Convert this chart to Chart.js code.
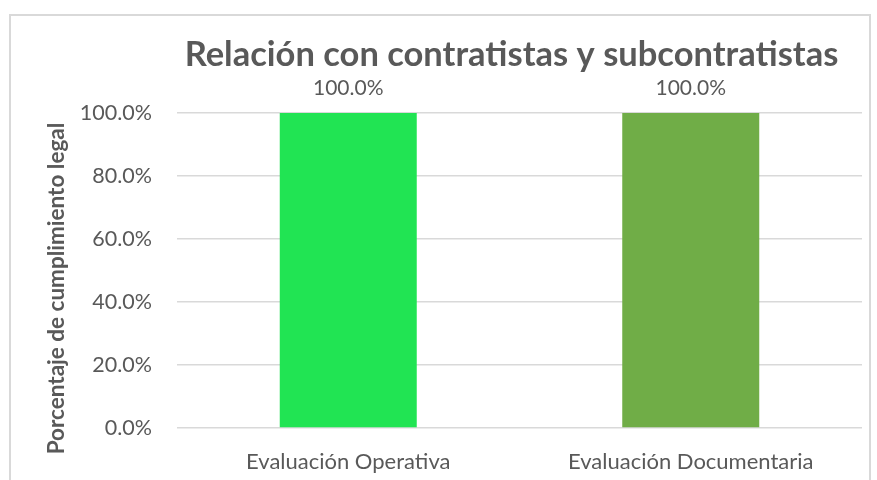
<!DOCTYPE html>
<html>
<head>
<meta charset="utf-8">
<script src="https://cdn.jsdelivr.net/npm/chart.js@4/dist/chart.umd.min.js"></script>
<style>
  body { margin: 0; background: #fff; }
  #frame {
    position: absolute; left: 9px; top: 14px; width: 862px; height: 480px;
    border: 2px solid #d9d9d9; box-sizing: border-box;
  }
  canvas { position: absolute; left: 0; top: 0; }
</style>
</head>
<body>
<div id="frame"></div>
<canvas id="chart" width="877" height="480"></canvas>
<script>
const categories = ["Evaluación Operativa", "Evaluación Documentaria"];
const values = [100, 100];
const barColors = ["#21E453", "#70AD47"];
const yTicks = [0, 20, 40, 60, 80, 100];
const chartTitle = "Relación con contratistas y subcontratistas";
const yTitle = "Porcentaje de cumplimiento legal";

const textColor = "#595959";
const fontFamily = "Lato, 'Open Sans', sans-serif";

// chart title and axis title, placed like the Excel original
const titles = {
  id: "titles",
  afterDraw(chart) {
    const ctx = chart.ctx;
    const area = chart.chartArea;
    ctx.save();
    ctx.fillStyle = textColor;
    ctx.textAlign = "center";
    ctx.textBaseline = "middle";
    ctx.font = "bold 34.5px " + fontFamily;
    ctx.fillText(chartTitle, (area.left + area.right) / 2 - 8, 55);

    ctx.font = "bold 22.5px " + fontFamily;
    ctx.translate(57, (area.top + area.bottom) / 2 + 18);
    ctx.rotate(-Math.PI / 2);
    ctx.fillText(yTitle, 0, 0);
    ctx.restore();
  }
};

// draws the "100.0%" labels above each bar
const valueLabels = {
  id: "valueLabels",
  afterDatasetsDraw(chart) {
    const ctx = chart.ctx;
    const meta = chart.getDatasetMeta(0);
    ctx.save();
    ctx.font = "21px " + fontFamily;
    ctx.fillStyle = textColor;
    ctx.textAlign = "center";
    ctx.textBaseline = "middle";
    meta.data.forEach((bar, i) => {
      ctx.fillText(values[i].toFixed(1) + "%", bar.x, bar.y - 25);
    });
    ctx.restore();
  }
};

const ctx = document.getElementById("chart").getContext("2d");
const chart = new Chart(ctx, {
  type: "bar",
  data: {
    labels: categories,
    datasets: [{
      data: values,
      backgroundColor: barColors,
      categoryPercentage: 0.4,
      barPercentage: 1.0
    }]
  },
  options: {
    responsive: false,
    animation: false,
    layout: { padding: { left: 43, right: 15, top: 113, bottom: 5 } },
    plugins: {
      legend: { display: false },
      tooltip: { enabled: false },
      title: { display: false }
    },
    scales: {
      x: {
        grid: { display: false, drawTicks: false },
        border: { display: false },
        afterFit(axis) { axis.height = 47; },
        ticks: {
          color: textColor,
          font: { family: fontFamily, size: 22 },
          padding: 21,
          maxRotation: 0,
          minRotation: 0
        }
      },
      y: {
        min: 0,
        max: 100,
        afterBuildTicks(axis) {
          axis.ticks = yTicks.map(v => ({ value: v }));
        },
        afterFit(axis) { axis.width = 134; },
        grid: { color: "#d9d9d9", lineWidth: 1.5, drawTicks: false },
        border: { display: false },
        ticks: {
          color: textColor,
          font: { family: fontFamily, size: 21.5 },
          padding: 25,
          callback: v => v.toFixed(1) + "%"
        }
      }
    }
  },
  plugins: [valueLabels, titles]
});
</script>
</body>
</html>
